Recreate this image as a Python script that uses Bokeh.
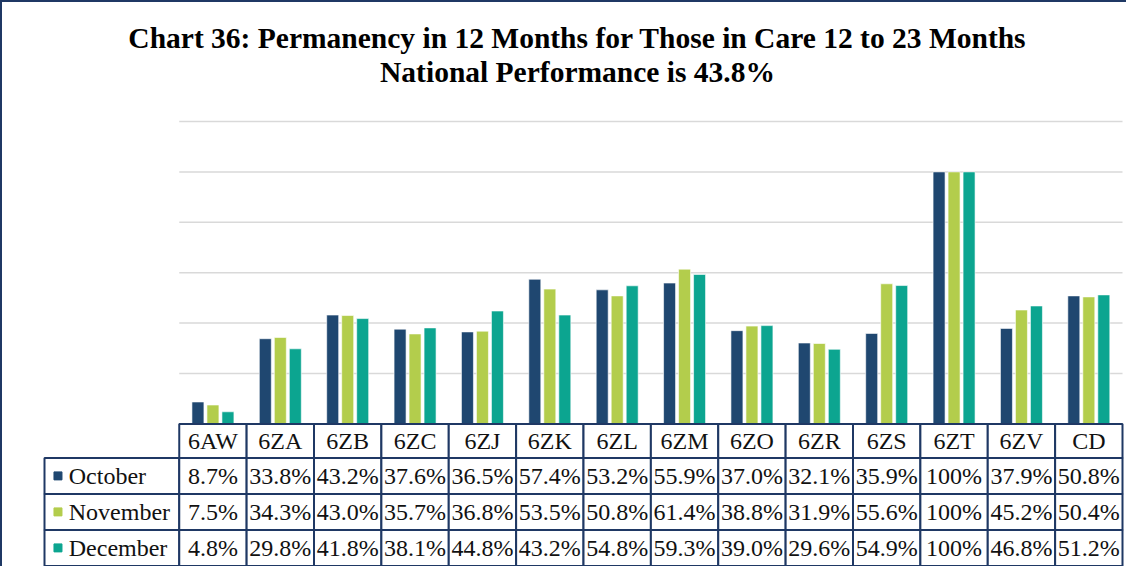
from bokeh.plotting import figure
from bokeh.models import Range1d
from bokeh.core.properties import value
from bokeh.embed import file_html
from bokeh.resources import INLINE

# ---- data ----
categories = ["6AW", "6ZA", "6ZB", "6ZC", "6ZJ", "6ZK", "6ZL", "6ZM", "6ZO", "6ZR", "6ZS", "6ZT", "6ZV", "CD"]
series_names = ["October", "November", "December"]
october = [8.7, 33.8, 43.2, 37.6, 36.5, 57.4, 53.2, 55.9, 37.0, 32.1, 35.9, 100, 37.9, 50.8]
november = [7.5, 34.3, 43.0, 35.7, 36.8, 53.5, 50.8, 61.4, 38.8, 31.9, 55.6, 100, 45.2, 50.4]
december = [4.8, 29.8, 41.8, 38.1, 44.8, 43.2, 54.8, 59.3, 39.0, 29.6, 54.9, 100, 46.8, 51.2]
grid_values = [20, 40, 60, 80, 100, 120]
title_line1 = "Chart 36: Permanency in 12 Months for Those in Care 12 to 23 Months"
title_line2 = "National Performance is 43.8%"

# ---- style / layout ----
colors = ["#1f4770", "#b3cd4c", "#0ca590"]
navy = "#1f3864"
serif = value("'Liberation Serif', 'Times New Roman', serif")
n = len(categories)
px_x = 67.375            # pixels per category column
px_y = 2.52              # pixels per percentage point
W, H = 1124, 564         # canvas size
left_px, right_px = 42, 4
top_px = 119             # canvas y of the 120% gridline
header_h = 34 / px_y
row_h = 36 / px_y
legend_w = 2.0

x0 = -legend_w - left_px / px_x
x1 = n + right_px / px_x
y1 = 120 + top_px / px_y
y0 = 120 - (H - top_px) / px_y

p = figure(frame_width=W, frame_height=H,
           x_range=Range1d(x0, x1), y_range=Range1d(y0, y1),
           x_axis_location=None, y_axis_location=None,
           toolbar_location=None, output_backend="svg",
           min_border=0)
p.outline_line_color = None
p.grid.grid_line_color = None
p.styles = {"border-left": f"2px solid {navy}", "border-top": f"2px solid {navy}"}

# gridlines
p.segment(x0=[0] * len(grid_values), x1=[n] * len(grid_values), y0=grid_values, y1=grid_values,
          line_color="#d9d9d9", line_width=1.5)

# bars
all_series = [october, november, december]
step = 0.2226
bw = 0.178
for k, (vals, col) in enumerate(zip(all_series, colors)):
    xs = [i + 0.5 + (k - 1) * step for i in range(n)]
    p.vbar(x=xs, top=vals, bottom=0, width=bw, fill_color=col, line_color="white", line_width=0.6)

txt = dict(text_font=serif, text_font_size="24px", text_baseline="middle", text_color="#111111")

# table header
p.quad(left=list(range(n)), right=[i + 1 for i in range(n)], top=[0] * n, bottom=[-header_h] * n,
       fill_color="white", line_color=navy, line_width=2)
p.text(x=[i + 0.5 for i in range(n)], y=[-header_h / 2] * n, text=categories, text_align="center", **txt)

def fmt(v):
    return "100%" if v == 100 else f"{v:.1f}%"

# table rows
for r, (name, vals, col) in enumerate(zip(series_names, all_series, colors)):
    top = -header_h - r * row_h
    bot = top - row_h
    mid = (top + bot) / 2
    p.quad(left=[-legend_w] + list(range(n)), right=[0] + [i + 1 for i in range(n)],
           top=[top] * (n + 1), bottom=[bot] * (n + 1),
           fill_color="white", line_color=navy, line_width=2)
    p.text(x=[i + 0.5 for i in range(n)], y=[mid] * n, text=[fmt(v) for v in vals],
           text_align="center", **txt)
    p.scatter(x=[-legend_w + 0.2], y=[mid], marker="square", size=8, fill_color=col, line_color=col)
    p.text(x=[-legend_w + 0.36], y=[mid], text=[name], text_align="left", **txt)

# title (two lines)
title_x = x0 + 575 / px_x
p.text(x=[title_x, title_x], y=[153.2, 139.6], text=[title_line1, title_line2],
       text_font=serif, text_font_size="29.5px", text_font_style="bold",
       text_align="center", text_baseline="alphabetic", text_color="#000000")

open("out.html", "w").write(file_html(p, INLINE))
